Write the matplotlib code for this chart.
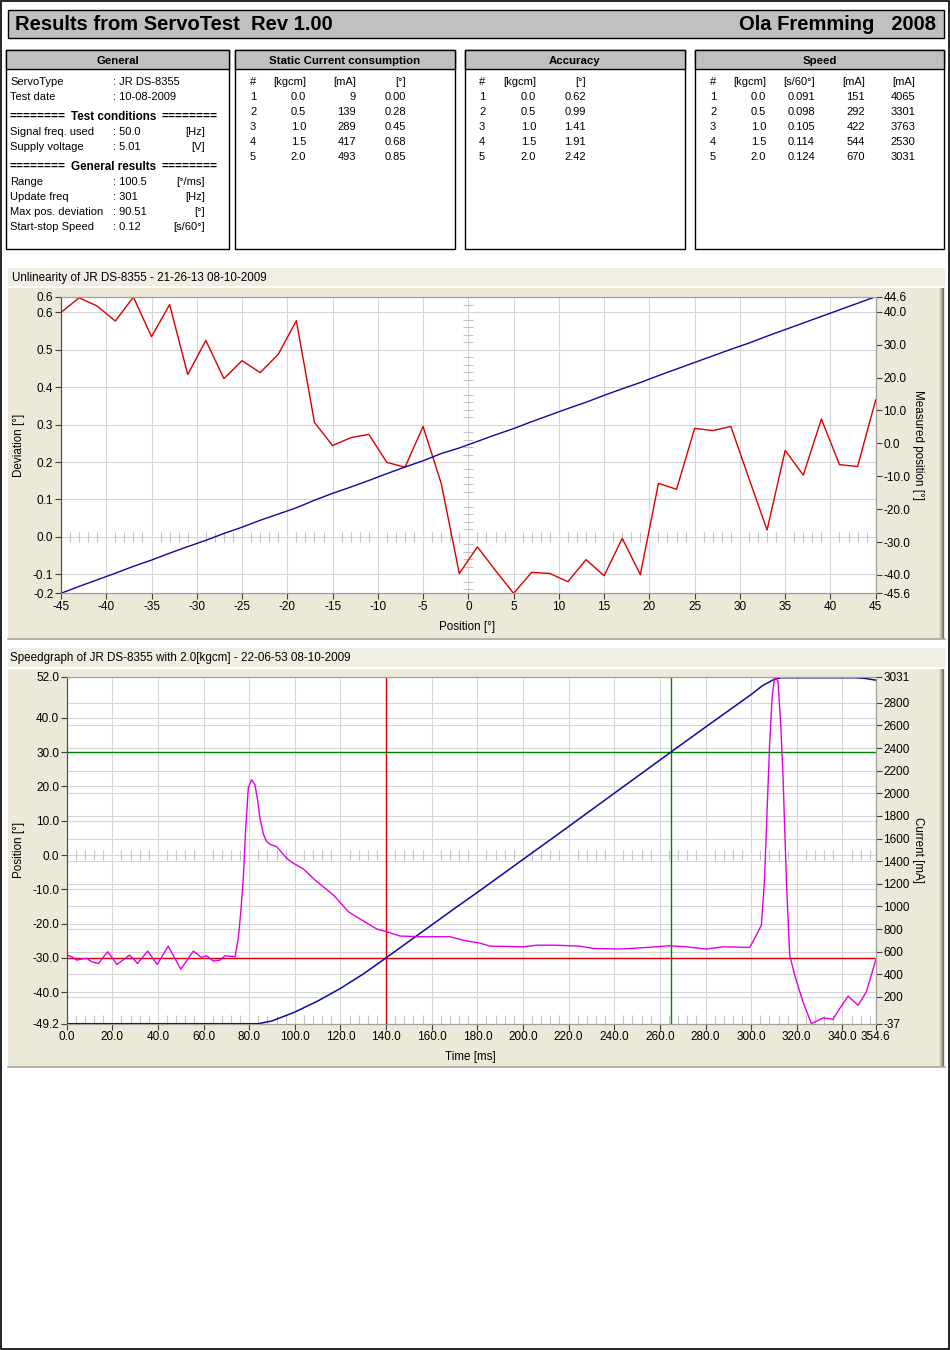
import matplotlib
matplotlib.use("Agg")
import matplotlib.pyplot as plt
from matplotlib.patches import Rectangle
from matplotlib.transforms import blended_transform_factory

plt.rcParams['font.family'] = ['Liberation Sans', 'DejaVu Sans']

# ---------------- header / general info ----------------
header_left = "Results from ServoTest  Rev 1.00"
header_right = "Ola Fremming   2008"

general_labels = ["ServoType", "Test date"]
general_values = [": JR DS-8355", ": 10-08-2009"]
cond_labels = ["Signal freq. used", "Supply voltage"]
cond_values = [": 50.0", ": 5.01"]
cond_units = ["[Hz]", "[V]"]
result_labels = ["Range", "Update freq", "Max pos. deviation", "Start-stop Speed"]
result_values = [": 100.5", ": 301", ": 90.51", ": 0.12"]
result_units = ["[°/ms]", "[Hz]", "[°]", "[s/60°]"]

# ---------------- tables ----------------
load_index = [1, 2, 3, 4, 5]
load_kgcm = [0.0, 0.5, 1.0, 1.5, 2.0]
static_mA = [9, 139, 289, 417, 493]
static_dev = [0.00, 0.28, 0.45, 0.68, 0.85]
accuracy_deg = [0.62, 0.99, 1.41, 1.91, 2.42]
speed_s60 = [0.091, 0.098, 0.105, 0.114, 0.124]
speed_mA = [151, 292, 422, 544, 670]
speed_peak_mA = [4065, 3301, 3763, 2530, 3031]

# ---------------- unlinearity chart ----------------
unlin_title = "Unlinearity of JR DS-8355 - 21-26-13 08-10-2009"
unlin_pos = [-45, -43, -41, -39, -37, -35, -33, -31, -29, -27, -25, -23, -21, -19, -17, -15,
             -13, -11, -9, -7, -5, -3, -1, 1, 3, 5, 7, 9, 11, 13, 15, 17, 19, 21, 23, 25,
             27, 29, 31, 33, 35, 37, 39, 41, 43, 45]
unlin_dev = [0.600, 0.639, 0.617, 0.577, 0.641, 0.535, 0.621, 0.434, 0.525, 0.423, 0.471,
             0.439, 0.488, 0.578, 0.306, 0.244, 0.265, 0.274, 0.199, 0.186, 0.295, 0.143,
             -0.098, -0.027, -0.090, -0.151, -0.095, -0.098, -0.120, -0.061, -0.104, -0.004,
             -0.101, 0.143, 0.127, 0.290, 0.284, 0.295, 0.156, 0.018, 0.231, 0.165, 0.315,
             0.193, 0.188, 0.366]
unlin_measured = [-45.6, -43.5, -41.5, -39.5, -37.4, -35.5, -33.4, -31.4, -29.5, -27.4, -25.5,
                  -23.4, -21.5, -19.6, -17.3, -15.2, -13.3, -11.3, -9.2, -7.2, -5.3, -3.1,
                  -1.4, 0.6, 2.6, 4.5, 6.6, 8.6, 10.6, 12.5, 14.6, 16.6, 18.5, 20.6, 22.6,
                  24.6, 26.6, 28.6, 30.5, 32.6, 34.6, 36.6, 38.6, 40.6, 42.6, 44.6]
dev_range = [-0.151, 0.642]
dev_ticks = [-0.1, 0.0, 0.1, 0.2, 0.3, 0.4, 0.5, 0.6]
meas_range = [-45.6, 44.6]
meas_ticks = [-40.0, -30.0, -20.0, -10.0, 0.0, 10.0, 20.0, 30.0, 40.0]
pos_ticks = [-45, -40, -35, -30, -25, -20, -15, -10, -5, 0, 5, 10, 15, 20, 25, 30, 35, 40, 45]

# ---------------- speedgraph chart ----------------
speed_title = "Speedgraph of JR DS-8355 with 2.0[kgcm] - 22-06-53 08-10-2009"
sg_time_pos = [0, 84, 90, 100, 110, 120, 130, 140, 150, 160, 170, 180, 200, 220, 240, 265,
               280, 300, 305, 310, 313, 346, 350, 354.6]
sg_position = [-49.2, -49.2, -48.4, -45.8, -42.6, -38.9, -34.7, -30.0, -25.2, -20.4, -15.6,
               -10.9, -1.3, 8.3, 18.0, 30.1, 37.3, 46.8, 49.4, 51.2, 51.7, 51.7, 51.5, 51.0]
sg_time_cur = [0, 2.2, 4.4, 6.6, 8.8, 11, 13.9, 16, 18, 20, 22, 25, 27.5, 29.3, 31, 33.3,
               35.5, 37.6, 39.7, 42, 44.5, 47.3, 50, 52.8, 55.5, 57.2, 58.9, 61.3, 64.3, 67.2,
               69.4, 73.8, 75.2, 76.3, 77.4, 78.5, 79.6, 81, 82.5, 83.6, 84.7, 86.2, 87.6,
               89.1, 92, 96.4, 99.3, 103.7, 108.8, 116.9, 123.5, 129.3, 135.9, 140.3, 146.1,
               155, 168, 175.4, 181.1, 185.5, 200, 205.9, 214.6, 224.8, 230.7, 242.4, 252.6,
               264.3, 271.6, 280.4, 287.7, 299.4, 302.3, 304.5, 305.9, 307, 308.1, 309.2,
               310.3, 311.8, 313, 314, 315.5, 316.9, 319.1, 322.7, 326.4, 328.6, 331.5,
               335.9, 338.8, 342.5, 346.9, 350.5, 354.6]
sg_current = [570, 555, 525, 535, 540, 510, 495, 550, 599, 545, 487, 530, 570, 535, 495, 550,
              605, 545, 487, 565, 649, 545, 445, 525, 605, 580, 549, 564, 516, 525,
              564, 555, 717, 950, 1249, 1700, 2047, 2120, 2076, 1950, 1781, 1640, 1574,
              1550, 1529, 1426, 1382, 1332, 1234, 1101, 953, 880, 800, 776, 738,
              732, 732, 694, 676, 649, 643, 657, 657, 649, 629, 623, 635,
              652, 643, 623, 643, 637, 747, 835, 1249, 1850, 2430, 2850,
              3030, 2990, 2600, 2135, 1200, 570, 392, 156, -36, -16, 14,
              2, 97, 206, 126, 244, 525]
sg_time_range = [0.0, 354.6]
sg_time_ticks = [0, 20, 40, 60, 80, 100, 120, 140, 160, 180, 200, 220, 240, 260, 280, 300,
                 320, 340, 354.6]
sg_pos_range = [-49.2, 52.0]
sg_pos_ticks = [-40.0, -30.0, -20.0, -10.0, 0.0, 10.0, 20.0, 30.0, 40.0]
sg_cur_range = [-37, 3031]
sg_cur_ticks = [200, 400, 600, 800, 1000, 1200, 1400, 1600, 1800, 2000, 2200, 2400, 2600, 2800]
cursor_times = [140.0, 265.0]
cursor_positions = [-30.0, 30.0]

# ---------------- style ----------------
W, H = 950, 1350
RED = '#D80000'
BLUE = '#0A0A9C'
MAGENTA = '#E000E0'
GREEN = '#008000'
GRID = '#D6D6D6'
MINOR = '#C4C4C4'
BEIGE = '#ECE9D8'
BAR = '#F0EEE4'
FS = 8.0
TFS = 8.4

fig = plt.figure(figsize=(W / 100, H / 100), dpi=100)
bg = fig.add_axes([0, 0, 1, 1])
bg.set_xlim(0, W)
bg.set_ylim(H, 0)
bg.axis('off')
bg.set_zorder(-10)

# outer frame
bg.add_patch(Rectangle((0.5, 0.5), W - 2, H - 1.5, fill=False, ec='black', lw=1.2))

# header
bg.add_patch(Rectangle((8, 10), 936, 28, fc='#C0C0C0', ec='black', lw=1))
bg.text(15, 24.5, header_left, ha='left', va='center', fontsize=14.5, fontweight='bold')
bg.text(936, 24.5, header_right, ha='right', va='center', fontsize=14.5, fontweight='bold')


def box(x0, x1, title):
    bg.add_patch(Rectangle((x0, 50), x1 - x0, 199, fc='white', ec='black', lw=1))
    bg.add_patch(Rectangle((x0, 50), x1 - x0, 19, fc='#C0C0C0', ec='black', lw=1))
    bg.text((x0 + x1) / 2, 60.5, title, ha='center', va='center', fontsize=8.2, fontweight='bold')


# General box
box(6, 229, "General")
y = 82
for lab, val in zip(general_labels, general_values):
    bg.text(10, y, lab, fontsize=FS, va='center')
    bg.text(113, y, val, fontsize=FS, va='center')
    y += 15


def section(yy, title):
    bg.text(10, yy, "========", fontsize=8.6, va='center', fontweight='bold')
    bg.text(218, yy, "========", fontsize=8.6, va='center', ha='right', fontweight='bold')
    bg.text(114, yy, title, fontsize=8.4, va='center', ha='center', fontweight='bold')


section(117, "Test conditions")
y = 132
for lab, val, u in zip(cond_labels, cond_values, cond_units):
    bg.text(10, y, lab, fontsize=FS, va='center')
    bg.text(113, y, val, fontsize=FS, va='center')
    bg.text(205, y, u, fontsize=FS, va='center', ha='right')
    y += 15
section(167, "General results")
y = 182
for lab, val, u in zip(result_labels, result_values, result_units):
    bg.text(10, y, lab, fontsize=FS, va='center')
    bg.text(113, y, val, fontsize=FS, va='center')
    bg.text(205, y, u, fontsize=FS, va='center', ha='right')
    y += 15


def table(x0, x1, title, hash_x, headers, col_right, columns):
    box(x0, x1, title)
    bg.text(hash_x, 82, "#", fontsize=FS, va='center')
    for hx, h in zip(col_right, headers):
        bg.text(hx, 82, h, fontsize=FS, va='center', ha='right')
    for i, idx in enumerate(load_index):
        yy = 97 + 15 * i
        bg.text(hash_x, yy, str(idx), fontsize=FS, va='center')
        for hx, col in zip(col_right, columns):
            bg.text(hx, yy, col[i], fontsize=FS, va='center', ha='right')


table(235, 455, "Static Current consumption", 250, ["[kgcm]", "[mA]", "[°]"], [306, 356, 406],
      [[f"{v:.1f}" for v in load_kgcm], [str(v) for v in static_mA],
       [f"{v:.2f}" for v in static_dev]])
table(465, 685, "Accuracy", 479, ["[kgcm]", "[°]"], [536, 586],
      [[f"{v:.1f}" for v in load_kgcm], [f"{v:.2f}" for v in accuracy_deg]])
table(695, 944, "Speed", 710, ["[kgcm]", "[s/60°]", "[mA]", "[mA]"], [766, 815, 865, 915],
      [[f"{v:.1f}" for v in load_kgcm], [f"{v:.3f}" for v in speed_s60],
       [str(v) for v in speed_mA], [str(v) for v in speed_peak_mA]])


def panel(y0, yt, y1, title, ty, tx):
    bg.add_patch(Rectangle((8, y0), 937, yt - y0, fc=BAR, ec='none'))
    bg.add_patch(Rectangle((8, yt + 1.5), 937, y1 - yt - 1.5, fc=BEIGE, ec='none'))
    for i, c in enumerate(['#DEDBCB', '#CBC8B7', '#B0AD9F', '#918F86', '#707070']):
        bg.add_patch(Rectangle((939 + i, yt + 1.5), 1.2, y1 - yt - 1.5, fc=c, ec='none'))
    bg.plot([8, 945], [y1, y1], color='#A9A699', lw=1.2)
    bg.text(tx, ty, title, fontsize=TFS, va='center', ha='left')


panel(268, 286, 639, unlin_title, 277.5, 12)
panel(648, 667, 1067, speed_title, 657.5, 10)


def frac(x0, x1, ytop, ybot):
    return [x0 / W, 1 - ybot / H, (x1 - x0) / W, (ybot - ytop) / H]


def style_axes(ax, axr):
    for a in (ax, axr):
        for s in ('top', 'right', 'bottom'):
            a.spines[s].set_color('#A0A0A0')
            a.spines[s].set_linewidth(0.8)
        a.spines['left'].set_color('#505050')
        a.spines['left'].set_linewidth(0.8)
        a.tick_params(direction='out', length=4, width=0.8, color='#404040', labelsize=8.5, pad=1.5)


# ================= Chart 1: unlinearity =================
ax1 = fig.add_axes(frac(61, 875.7, 296.7, 593.3))
ax1.set_xlim(unlin_pos[0], unlin_pos[-1])
ax1.set_ylim(*dev_range)
ax1.set_axisbelow(True)
ax1.set_xticks(pos_ticks)
ax1.set_xticklabels([str(v) for v in pos_ticks])
lt = [dev_range[0]] + dev_ticks + [dev_range[1]]
ax1.set_yticks(lt)
ax1.set_yticklabels([f"{v:.1f}" for v in lt])
ax1.grid(True, color=GRID, lw=0.8)
minor_x = [v for v in range(-44, 45) if v % 5 != 0]
ax1.plot(minor_x, [0] * len(minor_x), ls='none', marker='|', ms=7, mew=0.8, color=MINOR, zorder=1)
minor_y = [v / 50 for v in range(-7, 33) if v % 5 != 0]
ax1.plot([0] * len(minor_y), minor_y, ls='none', marker='_', ms=7, mew=0.8, color=MINOR, zorder=1)
ax1.plot(unlin_pos, unlin_dev, color=RED, lw=1.0, zorder=3)
ax1.set_ylabel("Deviation [°]", fontsize=TFS)
ax1.yaxis.set_label_coords(-0.044, 0.5)
ax1.set_xlabel("Position [°]", fontsize=TFS)
ax1.xaxis.set_label_coords(0.4985, -0.092)

ax1r = ax1.twinx()
ax1r.set_ylim(*meas_range)
rt = [meas_range[0]] + meas_ticks + [meas_range[1]]
ax1r.set_yticks(rt)
ax1r.set_yticklabels([f"{v:.1f}" for v in rt])
ax1r.plot(unlin_pos, unlin_measured, color=BLUE, lw=1.0)
ax1r.set_ylabel("Measured position [°]", fontsize=TFS, rotation=270, va='center', ha='center')
ax1r.yaxis.set_label_coords(1.052, 0.5)
style_axes(ax1, ax1r)

# ================= Chart 2: speedgraph =================
ax2 = fig.add_axes(frac(66.7, 875.7, 676.7, 1023.7))
ax2.set_xlim(*sg_time_range)
ax2.set_ylim(*sg_pos_range)
ax2.set_axisbelow(True)
ax2.set_xticks(sg_time_ticks)
ax2.set_xticklabels([f"{v:.1f}" for v in sg_time_ticks])
lt2 = [sg_pos_range[0]] + sg_pos_ticks + [sg_pos_range[1]]
ax2.set_yticks(lt2)
ax2.set_yticklabels([f"{v:.1f}" for v in lt2])
ax2.grid(True, color=GRID, lw=0.8)

ax2r = ax2.twinx()
ax2r.set_ylim(*sg_cur_range)
rt2 = [sg_cur_range[0]] + sg_cur_ticks + [sg_cur_range[1]]
ax2r.set_yticks(rt2)
ax2r.set_yticklabels([f"{v:d}" for v in rt2])

# gridlines for the current axis, drawn beneath everything
btr = blended_transform_factory(ax2.transAxes, ax2r.transData)
for v in sg_cur_ticks:
    ax2.plot([0, 1], [v, v], transform=btr, color=GRID, lw=0.8, zorder=0.5)
minor_t = [v for v in range(4, 354, 4) if v % 20 != 0]
ax2.plot(minor_t, [0] * len(minor_t), ls='none', marker='|', ms=7, mew=0.8, color=MINOR, zorder=1)
ax2.plot(minor_t, [0] * len(minor_t), ls='none', marker='|', ms=7, mew=0.8, color=MINOR, zorder=1,
         transform=ax2r.transData)

ax2.axhline(cursor_positions[0], color=RED, lw=1.0, zorder=2)
ax2.axvline(cursor_times[0], color=RED, lw=1.0, zorder=2)
ax2.axhline(cursor_positions[1], color=GREEN, lw=1.0, zorder=2)
ax2.axvline(cursor_times[1], color=GREEN, lw=1.0, zorder=2)
ax2.plot(sg_time_pos, sg_position, color=BLUE, lw=1.1, zorder=3)
ax2r.plot(sg_time_cur, sg_current, color=MAGENTA, lw=1.0)

ax2.set_ylabel("Position [°]", fontsize=TFS)
ax2.yaxis.set_label_coords(-0.0515, 0.5)
ax2.set_xlabel("Time [ms]", fontsize=TFS)
ax2.xaxis.set_label_coords(0.4985, -0.078)
ax2r.set_ylabel("Current [mA]", fontsize=TFS, rotation=270, va='center', ha='center')
ax2r.yaxis.set_label_coords(1.052, 0.5)
style_axes(ax2, ax2r)

fig.savefig("out.png", dpi=100)
